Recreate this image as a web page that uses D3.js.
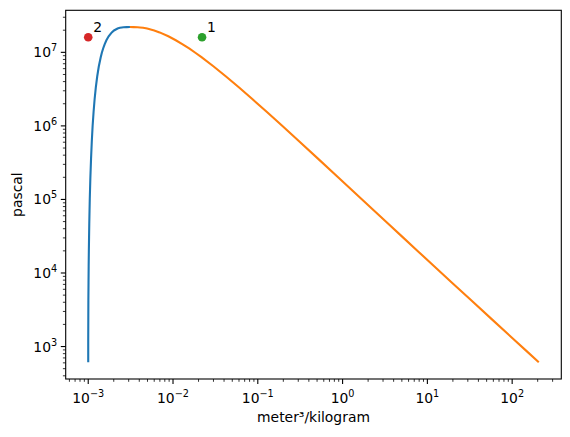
<!DOCTYPE html>
<html>
<head>
<meta charset="utf-8">
<script src="https://cdn.jsdelivr.net/npm/d3@7"></script>
<style>
  body { margin: 0; background: #fff; }
  text { font-family: "DejaVu Sans", sans-serif; fill: #000; }
</style>
</head>
<body>
<div id="chart"></div>
<script>
// saturation dome (pressure in pascal, specific volume in m3/kg)
const pressure = [611.7, 872.5, 1228, 2339, 4247, 7385, 12352, 19947, 31202, 47416, 70183,
  101420, 198670, 361530, 618230, 1002800, 1554900, 2319600, 3346900, 4692300, 6416600,
  8587900, 9865000, 11284000, 12858000, 14601000, 16529000, 18666000, 19822000, 21044000,
  21540000, 21810000, 21940000, 22050000, 22064000]
const vLiquid = [0.001000, 0.001000, 0.001000, 0.001002, 0.001004, 0.001008, 0.001012,
  0.001017, 0.001023, 0.001029, 0.001036, 0.001043, 0.001060, 0.001080, 0.001102, 0.001127,
  0.001157, 0.001190, 0.001229, 0.001276, 0.001332, 0.001404, 0.001447, 0.001499, 0.001561,
  0.001638, 0.001741, 0.001895, 0.002015, 0.002217, 0.002364, 0.002490, 0.002606, 0.002841,
  0.003106]
const vVapor = [206.0, 147.03, 106.32, 57.762, 32.879, 19.515, 12.026, 7.6672, 5.0395,
  3.4052, 2.3591, 1.6720, 0.89133, 0.50850, 0.30680, 0.19384, 0.12721, 0.086094, 0.059707,
  0.042175, 0.030166, 0.021659, 0.018335, 0.015493, 0.012995, 0.010784, 0.008806, 0.006950,
  0.006009, 0.004953, 0.00444, 0.00407, 0.003827, 0.003425, 0.003106]

const states = [
  { name: "1", v: 0.022, p: 16000000, color: "#2ca02c" },
  { name: "2", v: 0.001, p: 16000000, color: "#d62728" },
]

const xTicks = [1e-3, 1e-2, 1e-1, 1e0, 1e1, 1e2]
const yTicks = [1e3, 1e4, 1e5, 1e6, 1e7]

// chart dimensions
let dimensions = {
  width: 570,
  height: 437,
  margin: { top: 10.3, right: 8.7, bottom: 58, left: 65.7 },
}
dimensions.boundedWidth = dimensions.width - dimensions.margin.left - dimensions.margin.right
dimensions.boundedHeight = dimensions.height - dimensions.margin.top - dimensions.margin.bottom

const svg = d3.select("#chart").append("svg")
  .attr("width", dimensions.width)
  .attr("height", dimensions.height)

const bounds = svg.append("g")
  .attr("transform", `translate(${dimensions.margin.left},${dimensions.margin.top})`)

// log domain with 5% padding like matplotlib
const padLog = (lo, hi) => {
  const a = Math.log10(lo), b = Math.log10(hi), m = (b - a) * 0.05
  return [Math.pow(10, a - m), Math.pow(10, b + m)]
}
const allV = vLiquid.concat(vVapor)
const xScale = d3.scaleLog()
  .domain(padLog(d3.min(allV), d3.max(allV)))
  .range([0, dimensions.boundedWidth])
const yScale = d3.scaleLog()
  .domain(padLog(d3.min(pressure), d3.max(pressure)))
  .range([dimensions.boundedHeight, 0])

// minor ticks
const minorTicks = scale => {
  const [lo, hi] = scale.domain()
  const out = []
  for (let e = Math.floor(Math.log10(lo)); e <= Math.ceil(Math.log10(hi)); e++) {
    for (let k = 2; k <= 9; k++) {
      const v = k * Math.pow(10, e)
      if (v >= lo && v <= hi) out.push(v)
    }
  }
  return out
}

const tickLabel = (sel, v) => {
  const exp = Math.round(Math.log10(v))
  sel.append("tspan").text("10")
  sel.append("tspan")
    .attr("dy", -6)
    .style("font-size", "9.7px")
    .text(exp < 0 ? "\u2212" + (-exp) : String(exp))
}

// x axis
const xAxis = bounds.append("g")
  .attr("transform", `translate(0,${dimensions.boundedHeight})`)
minorTicks(xScale).forEach(v => {
  xAxis.append("line")
    .attr("x1", xScale(v)).attr("x2", xScale(v))
    .attr("y1", 0).attr("y2", 2.8)
    .attr("stroke", "#000").attr("stroke-width", 0.8)
})
xTicks.forEach(v => {
  xAxis.append("line")
    .attr("x1", xScale(v)).attr("x2", xScale(v))
    .attr("y1", 0).attr("y2", 4.9)
    .attr("stroke", "#000").attr("stroke-width", 1.1)
  const t = xAxis.append("text")
    .attr("x", xScale(v))
    .attr("y", 24)
    .attr("text-anchor", "middle")
    .style("font-size", "13.9px")
  tickLabel(t, v)
})

// y axis
const yAxis = bounds.append("g")
minorTicks(yScale).forEach(v => {
  yAxis.append("line")
    .attr("x1", 0).attr("x2", -2.8)
    .attr("y1", yScale(v)).attr("y2", yScale(v))
    .attr("stroke", "#000").attr("stroke-width", 0.8)
})
yTicks.forEach(v => {
  yAxis.append("line")
    .attr("x1", 0).attr("x2", -4.9)
    .attr("y1", yScale(v)).attr("y2", yScale(v))
    .attr("stroke", "#000").attr("stroke-width", 1.1)
  const t = yAxis.append("text")
    .attr("x", -8.5)
    .attr("y", yScale(v) + 5)
    .attr("text-anchor", "end")
    .style("font-size", "13.9px")
  tickLabel(t, v)
})

// curves
const line = d3.line()
  .x(d => xScale(d[0]))
  .y(d => yScale(d[1]))

bounds.append("path")
  .attr("d", line(vLiquid.map((v, i) => [v, pressure[i]])))
  .attr("fill", "none")
  .attr("stroke", "#1f77b4")
  .attr("stroke-width", 2.1)

bounds.append("path")
  .attr("d", line(vVapor.map((v, i) => [v, pressure[i]])))
  .attr("fill", "none")
  .attr("stroke", "#ff7f0e")
  .attr("stroke-width", 2.1)

// state points
states.forEach(s => {
  bounds.append("circle")
    .attr("cx", xScale(s.v))
    .attr("cy", yScale(s.p))
    .attr("r", 4.3)
    .attr("fill", s.color)
  bounds.append("text")
    .attr("x", xScale(s.v) + 5)
    .attr("y", yScale(s.p) - 5.5)
    .style("font-size", "13.9px")
    .text(s.name)
})

// frame
bounds.append("rect")
  .attr("width", dimensions.boundedWidth)
  .attr("height", dimensions.boundedHeight)
  .attr("fill", "none")
  .attr("stroke", "#000")
  .attr("stroke-width", 1.1)

// axis labels
svg.append("text")
  .attr("x", dimensions.margin.left + dimensions.boundedWidth / 2)
  .attr("y", 422)
  .attr("text-anchor", "middle")
  .style("font-size", "13.9px")
  .text("meter³/kilogram")

svg.append("text")
  .attr("transform", `translate(22,${dimensions.margin.top + dimensions.boundedHeight / 2}) rotate(-90)`)
  .attr("text-anchor", "middle")
  .style("font-size", "13.9px")
  .text("pascal")
</script>
</body>
</html>
